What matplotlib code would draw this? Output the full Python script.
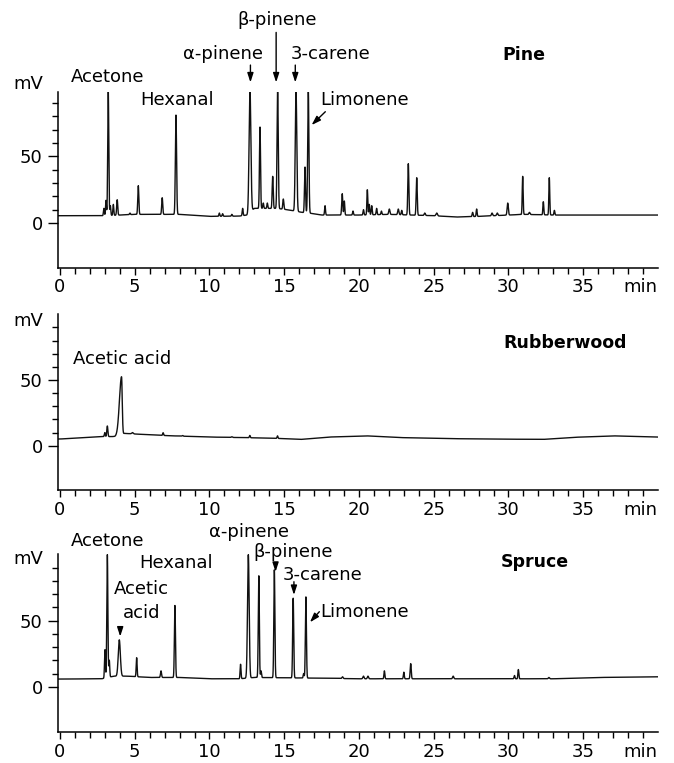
import numpy as np
import matplotlib
matplotlib.use('Agg')
import matplotlib.pyplot as plt

plt.rcParams['font.family'] = ['DejaVu Sans']

# ---------------- data ----------------
# retention time (min), apex height (mV), peak sigma left/right (min)
pine_rt  = [2.94, 3.08, 3.23, 3.37, 3.57, 3.83, 4.68, 5.24, 6.84, 7.76,
            10.66, 10.88, 11.5, 12.22, 12.71, 13.38, 13.6, 13.87, 14.23, 14.56,
            14.94, 15.79, 16.39, 16.61, 17.73, 18.88, 19.02, 19.6, 20.3, 20.56,
            20.69, 20.85, 21.18, 21.5, 22.03, 22.63, 22.86, 23.3, 23.86, 24.4,
            25.2, 27.6, 27.87, 28.9, 29.25, 29.95, 30.95, 31.4, 32.33, 32.73, 33.07]
pine_top = [11, 17, 100, 13, 14, 17.5, 7.5, 28, 19, 81,
            7.5, 7, 6.5, 11, 100, 72, 15, 15, 35, 100,
            18, 100, 42, 100, 13, 22, 16.5, 9, 10, 25,
            14, 13, 11, 9, 10.5, 10.5, 9.5, 44.5, 34, 7.5,
            7.5, 8, 10.5, 7.5, 7.5, 15, 35, 8, 16, 34, 9.5]
pine_sig = [0.03, 0.03, 0.035, 0.03, 0.03, 0.035, 0.03, 0.035, 0.035, 0.04,
            0.03, 0.03, 0.03, 0.03, 0.06, 0.035, 0.03, 0.03, 0.035, 0.04,
            0.035, 0.05, 0.035, 0.04, 0.03, 0.035, 0.03, 0.03, 0.03, 0.03,
            0.03, 0.03, 0.03, 0.03, 0.04, 0.04, 0.03, 0.035, 0.035, 0.04,
            0.05, 0.03, 0.03, 0.04, 0.04, 0.04, 0.03, 0.04, 0.03, 0.03, 0.03]
pine_base_t = [0, 3, 5, 8, 10, 12, 12.5, 13.0, 14.5, 15.2, 16.2, 17.0, 17.5, 20, 22, 25, 26.5, 28, 30, 31, 33, 40]
pine_base_v = [5.5, 5.5, 6.5, 6.5, 5, 5.2, 6, 11, 11, 10, 8, 7, 6, 6, 6.5, 5.5, 4.5, 5, 6, 6.5, 6, 6]

rub_rt  = [3.0, 3.17, 4.12, 4.85, 6.9, 7.8, 8.2, 11.5, 12.7, 14.55]
rub_top = [10, 15, 52.5, 10, 9.9, 7.5, 7.8, 6.8, 7.8, 7.5]
rub_sl  = [0.03, 0.035, 0.14, 0.05, 0.03, 0.03, 0.03, 0.04, 0.03, 0.03]
rub_sr  = [0.03, 0.035, 0.045, 0.05, 0.03, 0.03, 0.03, 0.04, 0.03, 0.03]
rub_base_t = [0, 2.8, 3.7, 4.3, 5.2, 7.3, 10, 12.6, 14.5, 16.1, 18, 20.5, 22.7, 26, 28.5, 32.3, 34.4, 37, 40]
rub_base_v = [5.1, 6.9, 7.0, 9.4, 8.8, 7.6, 6.6, 6.1, 5.6, 4.8, 6.6, 7.5, 6.2, 5.4, 5.1, 4.8, 6.4, 7.5, 6.6]

spr_rt  = [3.01, 3.17, 3.3, 3.97, 5.13, 6.76, 7.69, 12.08, 12.6,
           13.3, 13.45, 14.34, 15.6, 16.3, 16.45, 18.9, 20.3, 20.6, 21.7,
           23.0, 23.46, 26.3, 30.4, 30.66, 32.7]
spr_top = [28, 100, 20, 35.5, 22, 12, 61.5, 17, 100,
           84, 12, 88.5, 67, 10, 68, 7.5, 8, 8, 12,
           11, 17.5, 8, 8.5, 13, 7]
spr_sig = [0.03, 0.035, 0.03, 0.07, 0.03, 0.035, 0.035, 0.03, 0.055,
           0.035, 0.03, 0.035, 0.035, 0.03, 0.035, 0.04, 0.04, 0.04, 0.03,
           0.03, 0.035, 0.04, 0.03, 0.03, 0.04]
spr_base_t = [0, 2.8, 3.6, 4.5, 6, 8, 10, 12, 13, 17, 20, 30, 33, 36, 40]
spr_base_v = [5.8, 6, 8, 8, 7, 7, 6, 6, 7, 6.5, 6, 6, 6, 7, 7.5]

x_major = [0, 5, 10, 15, 20, 25, 30, 35]
y_major = [0, 50]
y_minor = [10, 20, 30, 40, 60, 70, 80, 90]

# labels: (text, x, y, ha, bold)
pine_labels = [('mV', -2.1, 104.5, 'center', False), ('Acetone', 0.72, 109.5, 'left', False),
               ('Hexanal', 5.35, 92, 'left', False), ('α-pinene', 8.24, 127, 'left', False),
               ('β-pinene', 14.54, 152, 'center', False), ('3-carene', 15.4, 127, 'left', False),
               ('Limonene', 17.4, 92, 'left', False), ('Pine', 31.06, 126, 'center', True)]
pine_arrows = [((12.74, 118.5), (12.74, 105.5)), ((14.46, 143), (14.46, 105.5)),
               ((15.74, 118.5), (15.74, 105.5)), ((17.75, 83.5), (16.83, 73.5))]
rub_labels = [('mV', -2.1, 95, 'center', False), ('Acetic acid', 0.85, 65.7, 'left', False),
              ('Rubberwood', 33.8, 78, 'center', True)]
rub_arrows = []
spr_labels = [('mV', -2.1, 97, 'center', False), ('Acetone', 0.74, 110.6, 'left', False),
              ('Acetic', 5.46, 74, 'center', False), ('acid', 5.46, 55.8, 'center', False),
              ('Hexanal', 5.3, 93.5, 'left', False), ('α-pinene', 10.0, 117, 'left', False),
              ('β-pinene', 12.95, 102, 'left', False), ('3-carene', 14.87, 84.6, 'left', False),
              ('Limonene', 17.4, 56.8, 'left', False), ('Spruce', 31.75, 94.7, 'center', True)]
spr_arrows = [((4.03, 45.5), (4.03, 38)), ((14.42, 93), (14.42, 87)),
              ((15.65, 79.5), (15.65, 69.5)), ((17.35, 56.8), (16.72, 48.8))]

# ---------------- drawing ----------------
t = np.linspace(-0.13, 40.0, 16000)


def trace(bt, bv, rt, top, sl, sr):
    base = np.interp(t, bt, bv)
    y = base.copy()
    for r, h, a, b in zip(rt, top, sl, sr):
        amp = h - np.interp(r, bt, bv)
        s = np.where(t < r, a, b)
        y += amp * np.exp(-0.5 * ((t - r) / s) ** 2)
    return y


fig = plt.figure(figsize=(6.74, 7.63), dpi=100)
L, W = 58 / 674, 600 / 674
panels = [
    ((1 - 267.7 / 763, 175.3 / 763), (-33.5, 98),
     trace(pine_base_t, pine_base_v, pine_rt, pine_top, pine_sig, pine_sig), pine_labels, pine_arrows),
    ((1 - 490.4 / 763, 176.1 / 763), (-34, 100),
     trace(rub_base_t, rub_base_v, rub_rt, rub_top, rub_sl, rub_sr), rub_labels, rub_arrows),
    ((1 - 732.4 / 763, 178.4 / 763), (-34.6, 100.5),
     trace(spr_base_t, spr_base_v, spr_rt, spr_top, spr_sig, spr_sig), spr_labels, spr_arrows),
]

for (b, h), ylim, y, labels, arrows in panels:
    ax = fig.add_axes([L, b, W, h])
    ax.plot(t, y, color='#111111', lw=1.0)
    ax.set_xlim(-0.13, 40.0)
    ax.set_ylim(*ylim)
    for s in ['top', 'right']:
        ax.spines[s].set_visible(False)
    for s in ['left', 'bottom']:
        ax.spines[s].set_linewidth(1.1)
    ax.set_xticks(x_major)
    ax.set_xticks(range(0, 40), minor=True)
    ax.set_yticks(y_major)
    ax.set_yticks(y_minor, minor=True)
    ax.tick_params(axis='both', which='both', direction='out', labelsize=13, width=1)
    ax.tick_params(axis='y', which='major', length=7, pad=4)
    ax.tick_params(axis='y', which='minor', length=4)
    ax.tick_params(axis='x', which='major', length=5, pad=2.5)
    ax.tick_params(axis='x', which='minor', length=4)
    ax.annotate('min', xy=(38.8, 0), xycoords=('data', 'axes fraction'),
                xytext=(0, -7.5), textcoords='offset points', ha='center', va='top',
                fontsize=13, annotation_clip=False)
    for s, x0, y0, ha, bold in labels:
        ax.text(x0, y0, s, ha=ha, va='center', fontsize=12.5 if bold else 13,
                fontweight='bold' if bold else 'normal', clip_on=False)
    for start, tip in arrows:
        ax.annotate('', xy=tip, xytext=start, annotation_clip=False,
                    arrowprops=dict(arrowstyle='-|>,head_length=0.55,head_width=0.18',
                                    mutation_scale=10, color='k', lw=1.0,
                                    shrinkA=0, shrinkB=0))

fig.savefig('out.png', dpi=100)
